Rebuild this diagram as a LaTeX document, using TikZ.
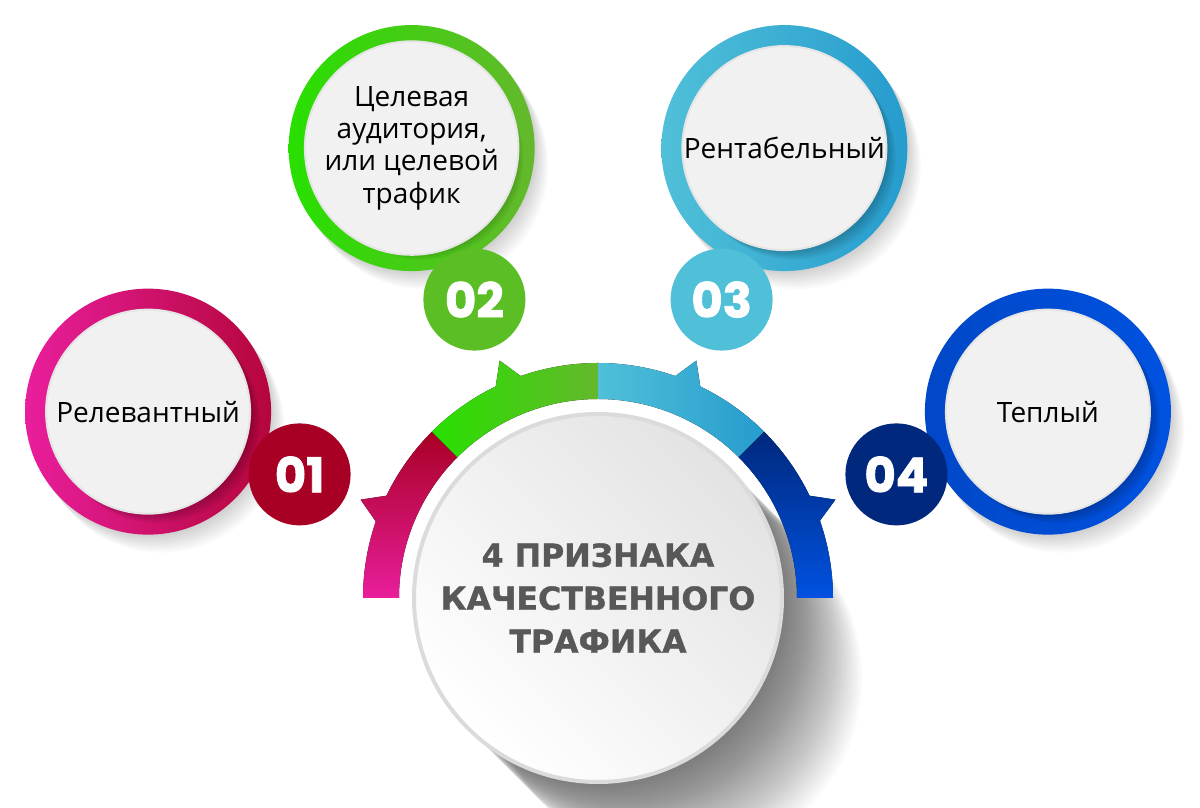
\documentclass[tikz,border=0pt]{standalone}
\usepackage{fontspec}
\setmainfont{Open Sans}
\newfontfamily\titlefont[BoldFeatures={FakeBold=1.2}]{DejaVu Sans}
\newfontfamily\numfont[BoldFeatures={FakeBold=1.8}]{Poppins}
\usepackage{tikz}
\usetikzlibrary{calc, positioning}
\definecolor{relevPink}{RGB}{233, 30, 156}
\definecolor{relevRed}{RGB}{168, 0, 36}
\definecolor{targetGreen}{RGB}{40, 224, 0}
\definecolor{targetOlive}{RGB}{100, 184, 44}
\definecolor{profitCyan}{RGB}{80, 192, 216}
\definecolor{profitBlue}{RGB}{38, 156, 206}
\definecolor{warmNavy}{RGB}{0, 40, 125}
\definecolor{warmBlue}{RGB}{0, 82, 224}
\definecolor{titleGray}{RGB}{88, 88, 88}
\definecolor{discGray}{RGB}{241, 241, 241}

\tikzset{
    ringdisc/.style={circle, minimum size=123pt, inner sep=0pt},
    labeldisc/.style={circle, minimum size=102pt, inner sep=0pt, fill=discGray, draw=black!10, line width=1pt,
        align=center, font=\fontsize{14}{16.2}\selectfont},
    numdisc/.style={circle, minimum size=51pt, inner sep=0pt, text=white, font=\numfont\bfseries\fontsize{24}{24}\selectfont},
    hubdisc/.style={circle, minimum size=184pt, inner sep=0pt, left color=white, right color=black!11, shading angle=135,
        draw=black!14, line width=2pt, align=center, text=titleGray,
        font=\titlefont\bfseries\fontsize{15.8}{21.5}\selectfont}
}

\begin{document}
\begin{tikzpicture}[x=0.5pt, y=0.5pt]
    \useasboundingbox (0, 0) rectangle (1200, 808);
    \fill[white] (0, 0) rectangle (1200, 808);
    \coordinate (c) at (598, 210);

    % long soft shadow of the hub
    \foreach \k in {1,...,32}
        \fill[black, opacity=0.018] ($(c)+(2.5*\k, -2.5*\k)$) circle[radius=184];

    % Feature 1: Relevant
    \coordinate (p1) at ($(c)+(157.5:487)$);
    \foreach \k in {1,...,9}
        \fill[black, opacity=0.02] ($(p1)+(1.5*\k, -2*\k)$) circle[radius=123];
    \node[ringdisc, left color=relevPink, right color=relevRed!80!relevPink] (ring1) at (p1) {};
    \foreach \k in {1,...,6}
        \fill[black, opacity=0.04] ($(p1)+(1.6*\k, -1.6*\k)$) circle[radius=102];
    \node[labeldisc] (relev) at (p1) {Релевантный};
    \node[numdisc, fill=relevRed] (num1) at ($(c)+(157.5:323)$) {01};

    % Feature 2: Target audience
    \coordinate (p2) at ($(c)+(112.5:487)$);
    \foreach \k in {1,...,9}
        \fill[black, opacity=0.02] ($(p2)+(1.5*\k, -2*\k)$) circle[radius=123];
    \node[ringdisc, left color=targetGreen, right color=targetOlive] (ring2) at (p2) {};
    \foreach \k in {1,...,6}
        \fill[black, opacity=0.04] ($(p2)+(1.6*\k, -1.6*\k)$) circle[radius=102];
    \node[labeldisc] (target) at (p2) {Целевая\\аудитория,\\или целевой\\трафик};
    \node[numdisc, fill=targetOlive!85!targetGreen] (num2) at ($(c)+(112.5:323)$) {02};

    % Feature 3: Profitable
    \coordinate (p3) at ($(c)+(67.5:487)$);
    \foreach \k in {1,...,9}
        \fill[black, opacity=0.02] ($(p3)+(1.5*\k, -2*\k)$) circle[radius=123];
    \node[ringdisc, left color=profitCyan, right color=profitBlue] (ring3) at (p3) {};
    \foreach \k in {1,...,6}
        \fill[black, opacity=0.04] ($(p3)+(1.6*\k, -1.6*\k)$) circle[radius=102];
    \node[labeldisc] (profit) at (p3) {Рентабельный};
    \node[numdisc, fill=profitCyan] (num3) at ($(c)+(67.5:323)$) {03};

    % Feature 4: Warm
    \coordinate (p4) at ($(c)+(22.5:487)$);
    \foreach \k in {1,...,9}
        \fill[black, opacity=0.02] ($(p4)+(1.5*\k, -2*\k)$) circle[radius=123];
    \node[ringdisc, left color=warmBlue!75!warmNavy, right color=warmBlue] (ring4) at (p4) {};
    \foreach \k in {1,...,6}
        \fill[black, opacity=0.04] ($(p4)+(1.6*\k, -1.6*\k)$) circle[radius=102];
    \node[labeldisc] (warm) at (p4) {Теплый};
    \node[numdisc, fill=warmNavy] (num4) at ($(c)+(22.5:323)$) {04};

    % Hub arc, one segment per feature, each with its pointer
    \fill[top color=relevRed, bottom color=relevPink]
        ($(c)+(180:235)$) arc[start angle=180, end angle=161, radius=235] -- ($(c)+(157.5:257)$)
        -- ($(c)+(154.2:235)$) arc[start angle=154.2, end angle=135, radius=235]
        -- ($(c)+(135:199)$) arc[start angle=135, end angle=180, radius=199] -- cycle;
    \fill[left color=targetGreen, right color=targetOlive]
        ($(c)+(135:235)$) arc[start angle=135, end angle=115.8, radius=235] -- ($(c)+(112.5:257)$)
        -- ($(c)+(109.2:235)$) arc[start angle=109.2, end angle=90, radius=235]
        -- ($(c)+(90:199)$) arc[start angle=90, end angle=135, radius=199] -- cycle;
    \fill[left color=profitCyan, right color=profitBlue]
        ($(c)+(90:235)$) arc[start angle=90, end angle=70.8, radius=235] -- ($(c)+(67.5:257)$)
        -- ($(c)+(64.2:235)$) arc[start angle=64.2, end angle=45, radius=235]
        -- ($(c)+(45:199)$) arc[start angle=45, end angle=90, radius=199] -- cycle;
    \fill[top color=warmNavy, bottom color=warmBlue]
        ($(c)+(45:235)$) arc[start angle=45, end angle=25.8, radius=235] -- ($(c)+(22.5:257)$)
        -- ($(c)+(19.2:235)$) arc[start angle=19.2, end angle=0, radius=235]
        -- ($(c)+(0:199)$) arc[start angle=0, end angle=45, radius=199] -- cycle;

    % Hub
    \node[hubdisc] (hub) at (c) {4 ПРИЗНАКА\\КАЧЕСТВЕННОГО\\ТРАФИКА};
\end{tikzpicture}
\end{document}
